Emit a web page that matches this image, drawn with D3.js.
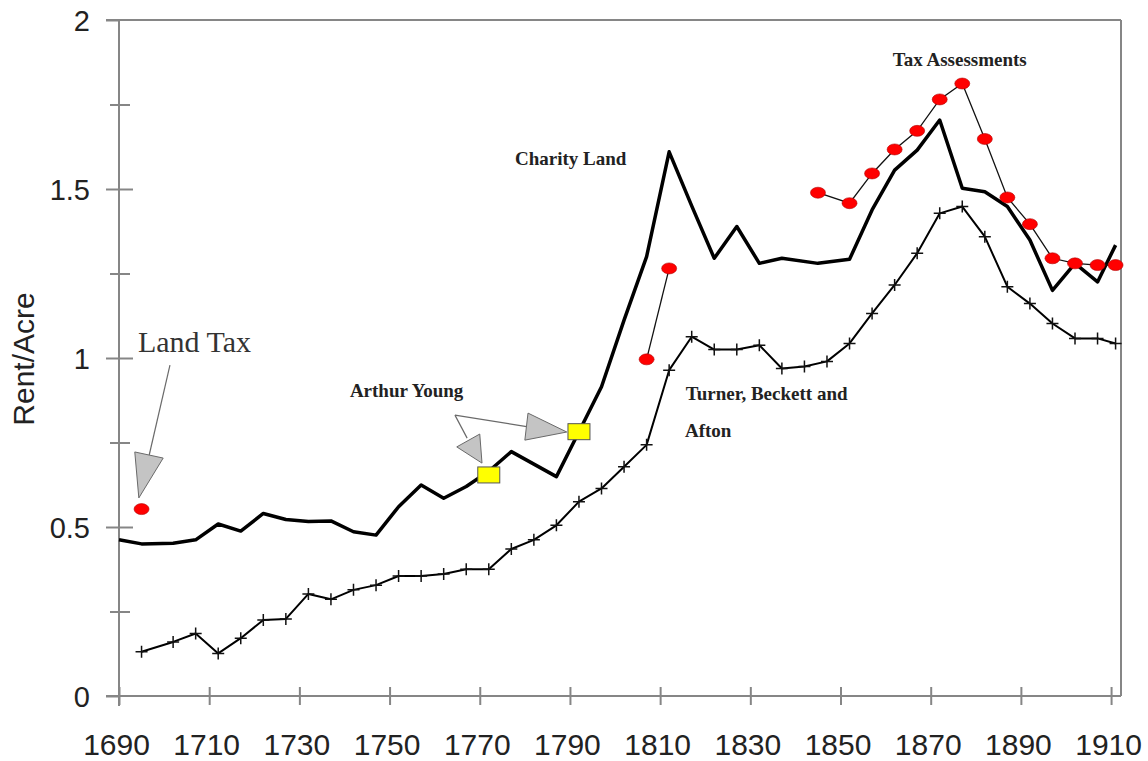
<!DOCTYPE html>
<html>
<head>
<meta charset="utf-8">
<script src="https://cdn.jsdelivr.net/npm/d3@7/dist/d3.min.js"></script>
<style>
body { margin: 0; background: #fff; }
</style>
</head>
<body>
<div id="chart"></div>
<script>
//Charity Land (thick line)
var charityYears = [1690, 1695, 1702, 1707, 1712, 1717, 1722, 1727, 1732, 1737, 1742, 1747, 1752, 1757, 1762, 1767, 1772, 1777, 1782, 1787, 1792, 1797, 1802, 1807, 1812, 1817, 1822, 1827, 1832, 1837, 1845, 1852, 1857, 1862, 1867, 1872, 1877, 1882, 1887, 1892, 1897, 1902, 1907, 1911];
var charityRent = [0.462, 0.45, 0.452, 0.462, 0.509, 0.488, 0.54, 0.522, 0.516, 0.518, 0.486, 0.476, 0.56, 0.624, 0.585, 0.62, 0.665, 0.723, 0.686, 0.649, 0.782, 0.915, 1.112, 1.30, 1.61, 1.45, 1.295, 1.389, 1.28, 1.295, 1.28, 1.292, 1.438, 1.556, 1.615, 1.704, 1.502, 1.492, 1.448, 1.349, 1.2, 1.28, 1.225, 1.334];

//Turner, Beckett and Afton (line with + marks)
var turnerYears = [1695, 1702, 1707, 1712, 1717, 1722, 1727, 1732, 1737, 1742, 1747, 1752, 1757, 1762, 1767, 1772, 1777, 1782, 1787, 1792, 1797, 1802, 1807, 1812, 1817, 1822, 1827, 1832, 1837, 1842, 1847, 1852, 1857, 1862, 1867, 1872, 1877, 1882, 1887, 1892, 1897, 1902, 1907, 1911];
var turnerRent = [0.131, 0.16, 0.185, 0.126, 0.171, 0.225, 0.228, 0.302, 0.286, 0.314, 0.328, 0.355, 0.355, 0.361, 0.375, 0.375, 0.435, 0.462, 0.505, 0.575, 0.614, 0.678, 0.743, 0.964, 1.063, 1.025, 1.025, 1.038, 0.969, 0.975, 0.99, 1.043, 1.132, 1.216, 1.31, 1.428, 1.448, 1.359, 1.211, 1.161, 1.102, 1.058, 1.058, 1.043];

//Tax Assessments (red dots), two separate runs
var taxYears1 = [1807, 1812];
var taxRent1 = [0.996, 1.265];
var taxYears2 = [1845, 1852, 1857, 1862, 1867, 1872, 1877, 1882, 1887, 1892, 1897, 1902, 1907, 1911];
var taxRent2 = [1.489, 1.458, 1.546, 1.617, 1.672, 1.765, 1.812, 1.648, 1.475, 1.396, 1.295, 1.28, 1.275, 1.275];

//single points
var landTaxYear = [1695];
var landTaxRent = [0.553];
var youngYears = [1772, 1792];
var youngRent = [0.654, 0.782];

//axis ticks
var xTicks = [1690, 1710, 1730, 1750, 1770, 1790, 1810, 1830, 1850, 1870, 1890, 1910];
var yTicks = [0, 0.25, 0.5, 0.75, 1, 1.25, 1.5, 1.75, 2];
var yMajor = [0, 0.5, 1, 1.5, 2];

var width = 1148;
var height = 761;
var axisGrey = '#868686';
var sans = 'Arial, "Liberation Sans", sans-serif';
var serif = '"Times New Roman", "Liberation Serif", serif';

var x = d3.scaleLinear().domain([1690, 1912.2]).range([119, 1121]);
var y = d3.scaleLinear().domain([0, 2]).range([696, 20]);

var svg = d3.select('#chart')
     .append('svg')
     .attr('width', width)
     .attr('height', height);

//frame (top and right)
var x0 = x.range()[0], x1 = x.range()[1];
svg.append('line').attr('x1', x0 - 13).attr('x2', x1).attr('y1', y(2)).attr('y2', y(2))
     .attr('stroke', axisGrey).attr('stroke-width', 2);
svg.append('line').attr('x1', x1).attr('x2', x1).attr('y1', y(2)).attr('y2', y(0))
     .attr('stroke', axisGrey).attr('stroke-width', 2);

//x axis
var xAxis = svg.append('g')
     .attr('transform', 'translate(0,' + y(0) + ')')
     .call(d3.axisBottom(x).tickValues(xTicks).tickFormat(d3.format('d')));
xAxis.select('.domain').remove();
xAxis.selectAll('.tick line')
     .attr('y1', -9).attr('y2', 9)
     .attr('stroke', axisGrey).attr('stroke-width', 2);
xAxis.selectAll('.tick text')
     .attr('y', 59).attr('dy', null).attr('dx', -3)
     .attr('fill', '#222')
     .style('font-family', sans)
     .style('font-size', '30px');
svg.append('line').attr('x1', x0 - 13).attr('x2', x1).attr('y1', y(0)).attr('y2', y(0))
     .attr('stroke', axisGrey).attr('stroke-width', 2);

//y axis
var yAxis = svg.append('g')
     .attr('transform', 'translate(' + x0 + ',0)')
     .call(d3.axisLeft(y).tickValues(yTicks).tickFormat(function (d) {
          return yMajor.indexOf(d) >= 0 ? String(d) : '';
     }));
yAxis.select('.domain').remove();
yAxis.selectAll('.tick line')
     .attr('x1', function (d) { return yMajor.indexOf(d) >= 0 ? -13 : -9; })
     .attr('x2', function (d) {
          if (d === 0 || d === 2) return 0;
          return yMajor.indexOf(d) >= 0 ? 14 : 11;
     })
     .attr('stroke', axisGrey).attr('stroke-width', 2);
yAxis.selectAll('.tick text')
     .attr('x', -29).attr('dy', '0.35em')
     .attr('fill', '#222')
     .style('font-family', sans)
     .style('font-size', '29px');
svg.append('line').attr('x1', x0).attr('x2', x0).attr('y1', y(2)).attr('y2', y(0) + 10)
     .attr('stroke', axisGrey).attr('stroke-width', 2);

svg.append('text')
     .attr('transform', 'translate(34,' + ((y(0) + y(2)) / 2 + 1) + ') rotate(-90)')
     .attr('text-anchor', 'middle')
     .attr('fill', '#222')
     .style('font-family', sans)
     .style('font-size', '30px')
     .text('Rent/Acre');

var line = d3.line()
     .x(function (d) { return x(d[0]); })
     .y(function (d) { return y(d[1]); });

//Charity Land
svg.append('path')
     .datum(d3.zip(charityYears, charityRent))
     .attr('d', line)
     .attr('fill', 'none')
     .attr('stroke', '#000')
     .attr('stroke-width', 3.5)
     .attr('stroke-linejoin', 'round');

//Turner, Beckett and Afton
var turner = d3.zip(turnerYears, turnerRent);
svg.append('path')
     .datum(turner)
     .attr('d', line)
     .attr('fill', 'none')
     .attr('stroke', '#000')
     .attr('stroke-width', 2)
     .attr('stroke-linejoin', 'round');
svg.selectAll('.turner-mark')
     .data(turner)
     .enter()
     .append('path')
     .attr('class', 'turner-mark')
     .attr('transform', function (d) { return 'translate(' + x(d[0]) + ',' + y(d[1]) + ')'; })
     .attr('d', 'M-6,0H6M0,-6V6')
     .attr('stroke', '#111')
     .attr('stroke-width', 1.5);

//Tax assessments
[d3.zip(taxYears1, taxRent1), d3.zip(taxYears2, taxRent2)].forEach(function (seg) {
     svg.append('path')
          .datum(seg)
          .attr('d', line)
          .attr('fill', 'none')
          .attr('stroke', '#111')
          .attr('stroke-width', 1.3);
});
var redDots = d3.zip(taxYears1, taxRent1)
     .concat(d3.zip(taxYears2, taxRent2))
     .concat(d3.zip(landTaxYear, landTaxRent));
svg.selectAll('.tax-dot')
     .data(redDots)
     .enter()
     .append('ellipse')
     .attr('class', 'tax-dot')
     .attr('cx', function (d) { return x(d[0]); })
     .attr('cy', function (d) { return y(d[1]); })
     .attr('rx', 7.5)
     .attr('ry', 5.5)
     .attr('fill', '#ff0000')
     .attr('stroke', '#b00000')
     .attr('stroke-width', 0.6);

//arrows (positions given in year / rent units)
var arrowLines = [
     [[1701.3, 0.979], [1696.7, 0.713]],
     [[1764.5, 0.831], [1780.4, 0.797]],
     [[1764.5, 0.831], [1767.2, 0.763]]
];
var arrowHeads = [
     [[1693.5, 0.722], [1699.8, 0.704], [1694.4, 0.586]],
     [[1780.7, 0.837], [1789.3, 0.781], [1780.0, 0.757]],
     [[1770.0, 0.775], [1770.5, 0.689], [1764.9, 0.737]]
];
svg.selectAll('.arrow-line')
     .data(arrowLines)
     .enter()
     .append('path')
     .attr('class', 'arrow-line')
     .attr('d', line)
     .attr('fill', 'none')
     .attr('stroke', '#6a6a6a')
     .attr('stroke-width', 1.2);
svg.selectAll('.arrow-head')
     .data(arrowHeads)
     .enter()
     .append('path')
     .attr('class', 'arrow-head')
     .attr('d', function (d) { return line(d) + 'Z'; })
     .attr('fill', '#c4c4c4')
     .attr('stroke', '#6a6a6a')
     .attr('stroke-width', 1);

//Arthur Young squares
svg.selectAll('.young')
     .data(d3.zip(youngYears, youngRent))
     .enter()
     .append('rect')
     .attr('class', 'young')
     .attr('x', function (d) { return x(d[0]) - 11; })
     .attr('y', function (d) { return y(d[1]) - 8; })
     .attr('width', 22)
     .attr('height', 16)
     .attr('fill', '#ffff00')
     .attr('stroke', '#555')
     .attr('stroke-width', 1);

//labels
var labels = [
     { text: 'Land Tax', year: 1694.2, rent: 1.018, size: 30, weight: 'normal', fill: '#333' },
     { text: 'Arthur Young', year: 1741.2, rent: 0.885, size: 19, weight: 'bold', fill: '#222' },
     { text: 'Charity Land', year: 1777.8, rent: 1.571, size: 19, weight: 'bold', fill: '#222' },
     { text: 'Turner, Beckett and', year: 1815.7, rent: 0.876, size: 19, weight: 'bold', fill: '#222' },
     { text: 'Afton', year: 1815.5, rent: 0.766, size: 19, weight: 'bold', fill: '#222' },
     { text: 'Tax Assessments', year: 1861.6, rent: 1.864, size: 19, weight: 'bold', fill: '#222' }
];
svg.selectAll('.label')
     .data(labels)
     .enter()
     .append('text')
     .attr('class', 'label')
     .attr('x', function (d) { return x(d.year); })
     .attr('y', function (d) { return y(d.rent); })
     .attr('fill', function (d) { return d.fill; })
     .style('font-family', serif)
     .style('font-size', function (d) { return d.size + 'px'; })
     .style('font-weight', function (d) { return d.weight; })
     .text(function (d) { return d.text; });
</script>
</body>
</html>
